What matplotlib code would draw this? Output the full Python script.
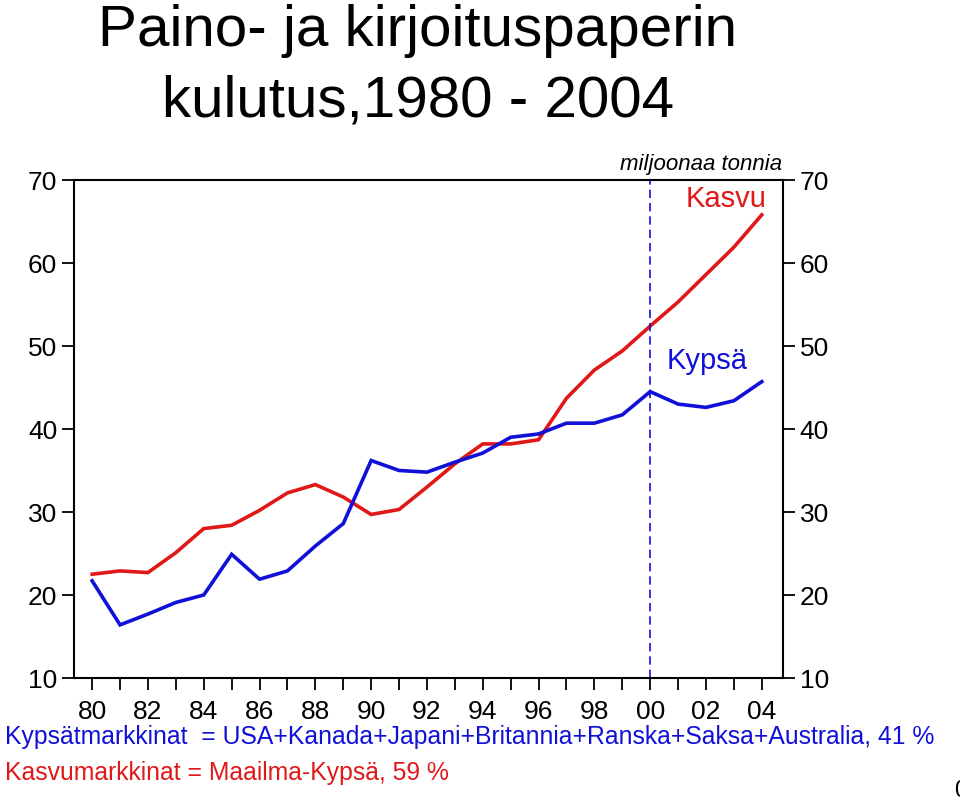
import numpy as np
import matplotlib
matplotlib.use('Agg')
import matplotlib.pyplot as plt
from matplotlib.ticker import MultipleLocator, FixedLocator

years = np.arange(1980, 2005)
# Kasvumarkkinat (red), million tonnes
kasvu = [22.5, 22.9, 22.7, 25.1, 28.0, 28.4, 30.2, 32.3, 33.3, 31.8,
         29.7, 30.3, 33.0, 35.8, 38.2, 38.2, 38.7, 43.7, 47.1, 49.4,
         52.4, 55.3, 58.6, 61.9, 65.8]
# Kypsat markkinat (blue)
kypsa = [21.7, 16.4, 17.7, 19.1, 20.0, 24.9, 21.9, 22.9, 25.9, 28.6,
         36.2, 35.0, 34.8, 36.0, 37.1, 39.0, 39.4, 40.7, 40.7, 41.7,
         44.5, 43.0, 42.6, 43.4, 45.7]
ytick_vals = [10, 20, 30, 40, 50, 60, 70]
xlabel_years = list(range(1980, 2005, 2))
xlabels = ['%02d' % (y % 100) for y in xlabel_years]

red = '#e01818'
blue = '#1010d8'
font = 'Liberation Sans'

fig = plt.figure(figsize=(9.6, 8.04), dpi=100)
ax = fig.add_axes([0.0771, 0.1555, 0.7385, 0.6194])

ax.plot(years, kasvu, color=red, lw=2.6, solid_joinstyle='miter')
ax.plot(years, kypsa, color=blue, lw=2.6, solid_joinstyle='miter')
ax.axvline(2000, color=blue, lw=1.2, ls=(0, (5, 3)))

ax.set_xlim(1979.35, 2004.76)
ax.set_ylim(10, 70)
for s in ax.spines.values():
    s.set_linewidth(1.5)

ax.yaxis.set_major_locator(FixedLocator(ytick_vals))
ax.tick_params(axis='y', which='both', direction='out', length=8.6, width=1.3,
               left=True, right=True, labelleft=True, labelright=True,
               labelsize=19, pad=3.5)
for lab in ax.get_yticklabels():
    lab.set_family(font)

ax.xaxis.set_major_locator(FixedLocator(xlabel_years))
ax.xaxis.set_minor_locator(MultipleLocator(1))
ax.set_xticklabels(xlabels)
ax.tick_params(axis='x', which='both', direction='out', length=8.6, width=1.3,
               bottom=True, top=False, labelsize=19, pad=6.5)
for lab in ax.get_xticklabels():
    lab.set_family(font)

# title, two lines placed separately
fig.text(0.435, 1 - 46 / 804, 'Paino- ja kirjoituspaperin', ha='center',
         va='baseline', fontsize=42, family=font)
fig.text(0.435, 1 - 117 / 804, 'kulutus,1980 - 2004', ha='center',
         va='baseline', fontsize=42, family=font)

fig.text(782 / 960, 1 - 170 / 804, 'miljoonaa tonnia', ha='right',
         va='baseline', fontsize=16, style='italic', family=font)
fig.text(766 / 960, 1 - 207 / 804, 'Kasvu', ha='right', va='baseline',
         fontsize=21, color=red, family=font)
ax.text(2002.05, 48.3, 'Kypsä', ha='center', va='center',
        fontsize=21, color=blue, family=font)

fig.text(0.005, 1 - 737 / 804,
         'Kypsätmarkkinat  = USA+Kanada+Japani+Britannia+Ranska+Saksa+Australia, 41 %',
         ha='left', va='center', fontsize=17.8, color=blue, family=font)
fig.text(0.005, 1 - 773 / 804, 'Kasvumarkkinat = Maailma-Kypsä, 59 %',
         ha='left', va='center', fontsize=17.8, color=red, family=font)
fig.text(0.9935, 1 - 791 / 804, '0', ha='left', va='center', fontsize=17,
         family=font)

fig.savefig('out.png', dpi=100)
